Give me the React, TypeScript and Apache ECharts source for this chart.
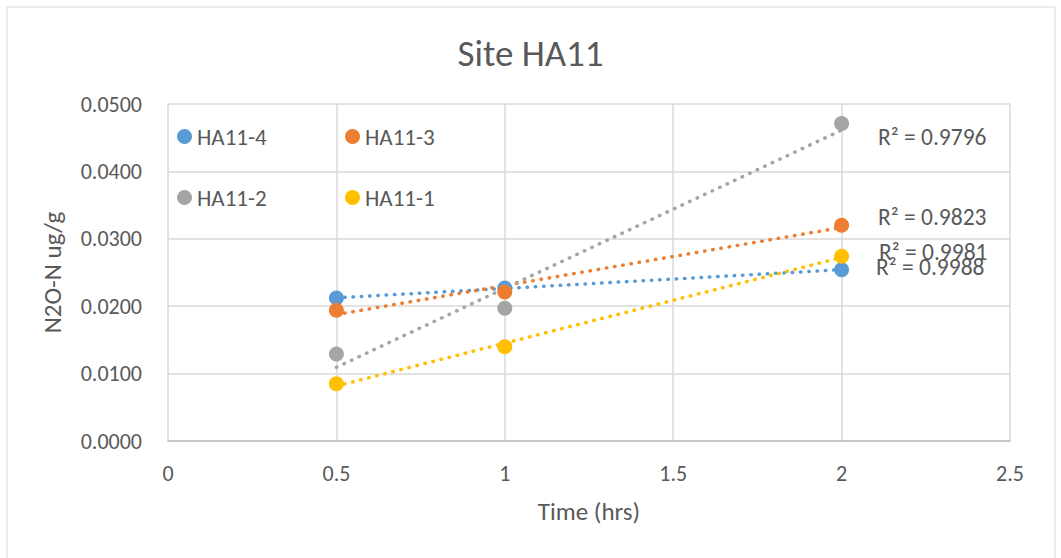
import React, { useEffect, useRef } from "react";
import * as echarts from "echarts";

const timesHrs = [0.5, 1, 2];
const seriesNames = ["HA11-4", "HA11-3", "HA11-2", "HA11-1"];
const ha11_4 = [0.0212, 0.0227, 0.0254];
const ha11_3 = [0.0194, 0.0221, 0.0320];
const ha11_2 = [0.0129, 0.0197, 0.0471];
const ha11_1 = [0.0085, 0.0140, 0.0274];
const seriesColors = ["#5B9BD5", "#ED7D31", "#A5A5A5", "#FFC000"];
const r2Labels = ["R² = 0.9988", "R² = 0.9823", "R² = 0.9796", "R² = 0.9981"];
const xTicks = [0, 0.5, 1, 1.5, 2, 2.5];
const yTicks = [0, 0.01, 0.02, 0.03, 0.04, 0.05];

const FONT = "Carlito, Lato, 'Open Sans', sans-serif";
const TXT = "#595959";

function fit(xs: number[], ys: number[]) {
  const n = xs.length;
  const mx = xs.reduce((a, b) => a + b, 0) / n;
  const my = ys.reduce((a, b) => a + b, 0) / n;
  let sxx = 0, sxy = 0;
  for (let i = 0; i < n; i++) {
    sxx += (xs[i] - mx) ** 2;
    sxy += (xs[i] - mx) * (ys[i] - my);
  }
  const b = sxy / sxx;
  const a = my - b * mx;
  return { a, b };
}

export default function App() {
  const ref = useRef<HTMLDivElement>(null);
  useEffect(() => {
    document.body.style.margin = "0";
    const chart = echarts.init(ref.current!, null, { renderer: "svg" });
    const all = [ha11_4, ha11_3, ha11_2, ha11_1];
    const series: any[] = [];
    all.forEach((vals, i) => {
      const { a, b } = fit(timesHrs, vals);
      const x0 = timesHrs[0];
      const x1 = timesHrs[timesHrs.length - 1];
      series.push({
        name: seriesNames[i] + " trend",
        type: "line",
        data: [[x0, a + b * x0], [x1, a + b * x1]],
        symbol: "none",
        silent: true,
        lineStyle: { color: seriesColors[i], width: 3.5, type: [0.5, 7.8], cap: "round" },
        z: 2,
      });
    });
    all.forEach((vals, i) => {
      series.push({
        name: seriesNames[i],
        type: "scatter",
        data: timesHrs.map((t, j) => [t, vals[j]]),
        symbol: "circle",
        symbolSize: 15,
        itemStyle: { color: seriesColors[i], opacity: 1 },
        z: 3,
      });
    });
    const legendPos = [
      { left: 177, top: 125 },
      { left: 345, top: 125 },
      { left: 177, top: 186 },
      { left: 345, top: 186 },
    ];
    const legends = seriesNames.map((n, i) => ({
      data: [n],
      ...legendPos[i],
      icon: "circle",
      itemWidth: 15,
      itemHeight: 15,
      itemGap: 0,
      textStyle: { fontFamily: FONT, fontSize: 23, color: TXT },
      selectedMode: false,
      padding: 0,
    }));
    const r2Pos = [
      { x: 876, y: 267 },
      { x: 878, y: 217 },
      { x: 878, y: 137 },
      { x: 879, y: 252 },
    ];
    chart.setOption({
      animation: false,
      backgroundColor: "#fff",
      title: {
        text: "Site HA11",
        left: "center",
        top: 30,
        textStyle: { fontFamily: FONT, fontSize: 37, fontWeight: "normal", color: TXT },
      },
      legend: legends,
      grid: { left: 168, right: 51, top: 104, bottom: 117 },
      xAxis: {
        type: "value",
        min: 0,
        max: 2.5,
        interval: 0.5,
        name: "Time (hrs)",
        nameLocation: "middle",
        nameGap: 58,
        nameTextStyle: { fontFamily: FONT, fontSize: 25, color: TXT },
        axisLine: { show: true, lineStyle: { color: "#BFBFBF", width: 1.5 } },
        axisTick: { show: false },
        axisLabel: {
          fontFamily: FONT,
          fontSize: 22,
          color: TXT,
          margin: 21,
          formatter: (v: number) => (xTicks.includes(v) ? String(v) : ""),
        },
        splitLine: { show: true, lineStyle: { color: "#D9D9D9", width: 1.5 } },
      },
      yAxis: {
        type: "value",
        min: 0,
        max: 0.05,
        interval: 0.01,
        name: "N2O-N ug/g",
        nameLocation: "middle",
        nameGap: 103,
        nameTextStyle: { fontFamily: FONT, fontSize: 25, color: TXT },
        axisLine: { show: false },
        axisTick: { show: false },
        axisLabel: {
          fontFamily: FONT,
          fontSize: 22,
          color: TXT,
          margin: 26,
          formatter: (v: number) => (yTicks.some((t) => Math.abs(t - v) < 1e-9) ? v.toFixed(4) : ""),
        },
        splitLine: { show: true, lineStyle: { color: "#D9D9D9", width: 1.5 } },
      },
      graphic: [
        {
          type: "rect",
          shape: { x: 7, y: 7, width: 1048, height: 560 },
          style: { fill: "none", stroke: "#D9D9D9", lineWidth: 1 },
          silent: true,
        },
        ...r2Labels.map((t, i) => ({
          type: "text",
          x: r2Pos[i].x,
          y: r2Pos[i].y,
          style: { text: t, fontFamily: FONT, fontSize: 23.5, fill: TXT, textVerticalAlign: "middle" },
          silent: true,
          z: 10,
        })),
      ],
      series,
    });
    return () => chart.dispose();
  }, []);
  return <div ref={ref} style={{ width: 1061, height: 558 }} />;
}
